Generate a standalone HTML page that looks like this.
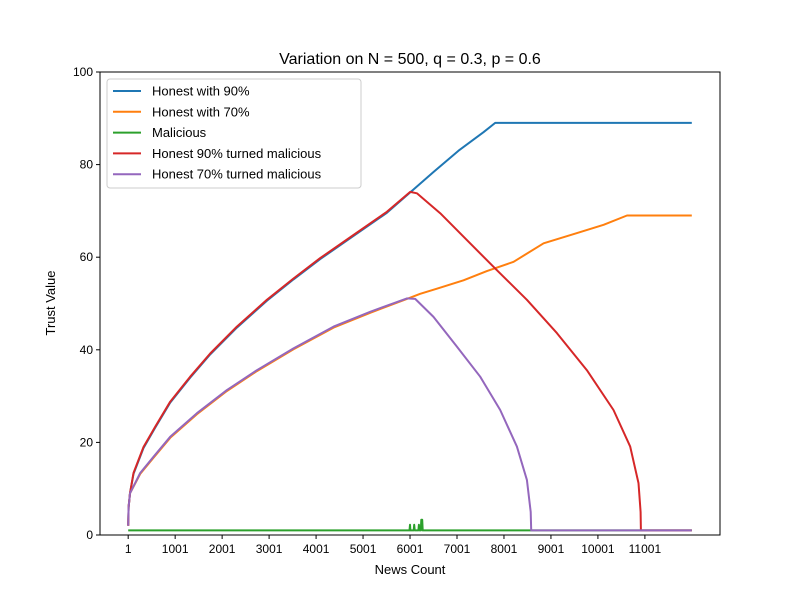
<!DOCTYPE html>
<html><head><meta charset="utf-8"><style>
body{margin:0;background:#fff}
text{font-family:"Liberation Sans","DejaVu Sans",sans-serif;fill:#000}
</style></head><body>
<svg id="chart" width="800" height="600" xmlns="http://www.w3.org/2000/svg">
<rect width="800" height="600" fill="#fff"/>
<text x="410" y="64" font-size="16" text-anchor="middle">Variation on N = 500, q = 0.3, p = 0.6</text>
<g id="plot"></g>
<rect x="100" y="72" width="620" height="463" fill="none" stroke="#000" stroke-width="1"/>
<g id="axes"></g>
<text x="410" y="574" font-size="13" text-anchor="middle">News Count</text>
<text x="55" y="303" font-size="13" text-anchor="middle" transform="rotate(-90 55 303)">Trust Value</text>
<g id="legend"></g>
</svg>
<script>
const xTicks=[1,1001,2001,3001,4001,5001,6001,7001,8001,9001,10001,11001];
const yTicks=[0,20,40,60,80,100];
const seriesNames=["Honest with 90%","Honest with 70%","Malicious","Honest 90% turned malicious","Honest 70% turned malicious"];
const seriesColors=["#1f77b4","#ff7f0e","#2ca02c","#d62728","#9467bd"];
const honest90X=[1,10,40,114,326,576,895,1321,1747,2315,2954,3520,4089,4798,5508,6005,6501,7033,7565,7814,12000];
const honest90Y=[2,6,9,13.2,18.8,23.2,28.6,34,39,44.8,50.6,55.2,59.6,64.6,69.6,74,78.4,83,87,89,89];
const honest70X=[1,10,40,256,540,895,1463,2102,2741,3520,4373,5153,5935,6218,6573,7140,7637,8205,8844,9555,10122,10620,12000];
const honest70Y=[2,6,9,13.2,16.7,21,26.1,31.1,35.4,40.1,44.8,48,51,52.1,53.2,55,57,59,63,65.2,67,69,69];
const maliciousX=[1,5990,6000,6010,6080,6090,6100,6180,6190,6200,6230,6240,6260,6270,12000];
const maliciousY=[1,1,2.2,1,1,2.2,1,1,2.2,1,1,3.3,3.3,1,1];
const turned90X=[1,10,40,114,326,576,895,1321,1747,2315,2954,3520,4089,4798,5508,6005,6148,6644,7212,7851,8490,9128,9767,10333,10688,10866,10910,10916,12000];
const turned90Y=[2,6,9,13.4,19,23.4,28.8,34.2,39.2,45,50.8,55.4,59.8,64.8,69.8,74.1,73.8,69.5,63.7,57.2,50.8,43.6,35.6,27,19.1,11.2,5,1,1];
const turned70X=[1,10,40,256,540,895,1463,2102,2741,3520,4373,5153,5935,6112,6501,6999,7495,7921,8276,8490,8570,8581,12000];
const turned70Y=[2,6,9,13.4,16.9,21.2,26.3,31.3,35.6,40.3,45,48.2,51.1,51,47.1,40.7,34.2,27,19.1,11.9,5,1,1];
const allX=[honest90X,honest70X,maliciousX,turned90X,turned70X];
const allY=[honest90Y,honest70Y,maliciousY,turned90Y,turned70Y];
const seriesKeys=["honest-90","honest-70","malicious","honest-90-turned","honest-70-turned"];
const NS="http://www.w3.org/2000/svg";
const X0=-599,X1=12600,Y0=0,Y1=100,L=100,R=720,T=72,B=535;
function sx(v){return L+(v-X0)/(X1-X0)*(R-L);}
function sy(v){return B-(v-Y0)/(Y1-Y0)*(B-T);}
function mk(tag,attrs,parent){const e=document.createElementNS(NS,tag);for(const k in attrs)e.setAttribute(k,attrs[k]);parent.appendChild(e);return e;}
const axes=document.getElementById('axes');
xTicks.forEach(t=>{
 const l=mk('line',{x1:sx(t),x2:sx(t),y1:B,y2:B+4,stroke:'#000'},axes);
 
 
 const tx=mk('text',{x:sx(t),y:B+18,'font-size':12,'text-anchor':'middle'},axes);
 tx.textContent=t;
 
 
});
yTicks.forEach(t=>{
 const l=mk('line',{x1:L-4,x2:L,y1:sy(t),y2:sy(t),stroke:'#000'},axes);
 
 
 const tx=mk('text',{x:L-7,y:sy(t)+4,'font-size':12,'text-anchor':'end'},axes);
 tx.textContent=t;
 
 
});
const plot=document.getElementById('plot');
allX.forEach((xs,i)=>{
 const pts=xs.map((x,j)=>sx(x).toFixed(1)+','+sy(allY[i][j]).toFixed(1)).join(' ');
 const p=mk('polyline',{points:pts,fill:'none',stroke:seriesColors[i],'stroke-width':2,'stroke-linejoin':'round'},plot);
 
 
});
const lg=document.getElementById('legend');
const box=mk('rect',{x:107,y:79,width:254,height:109,rx:3,fill:'#fff','fill-opacity':0.8,stroke:'#ccc'},lg);


seriesNames.forEach((n,i)=>{
 const y=91+i*20.8;
 const g=mk('g',{},lg);
 
 
 mk('line',{x1:113,x2:141,y1:y,y2:y,stroke:seriesColors[i],'stroke-width':2},g);
 const t=mk('text',{x:152,y:y+4.5,'font-size':13},g);
 t.textContent=n;
});
</script>
</body></html>
